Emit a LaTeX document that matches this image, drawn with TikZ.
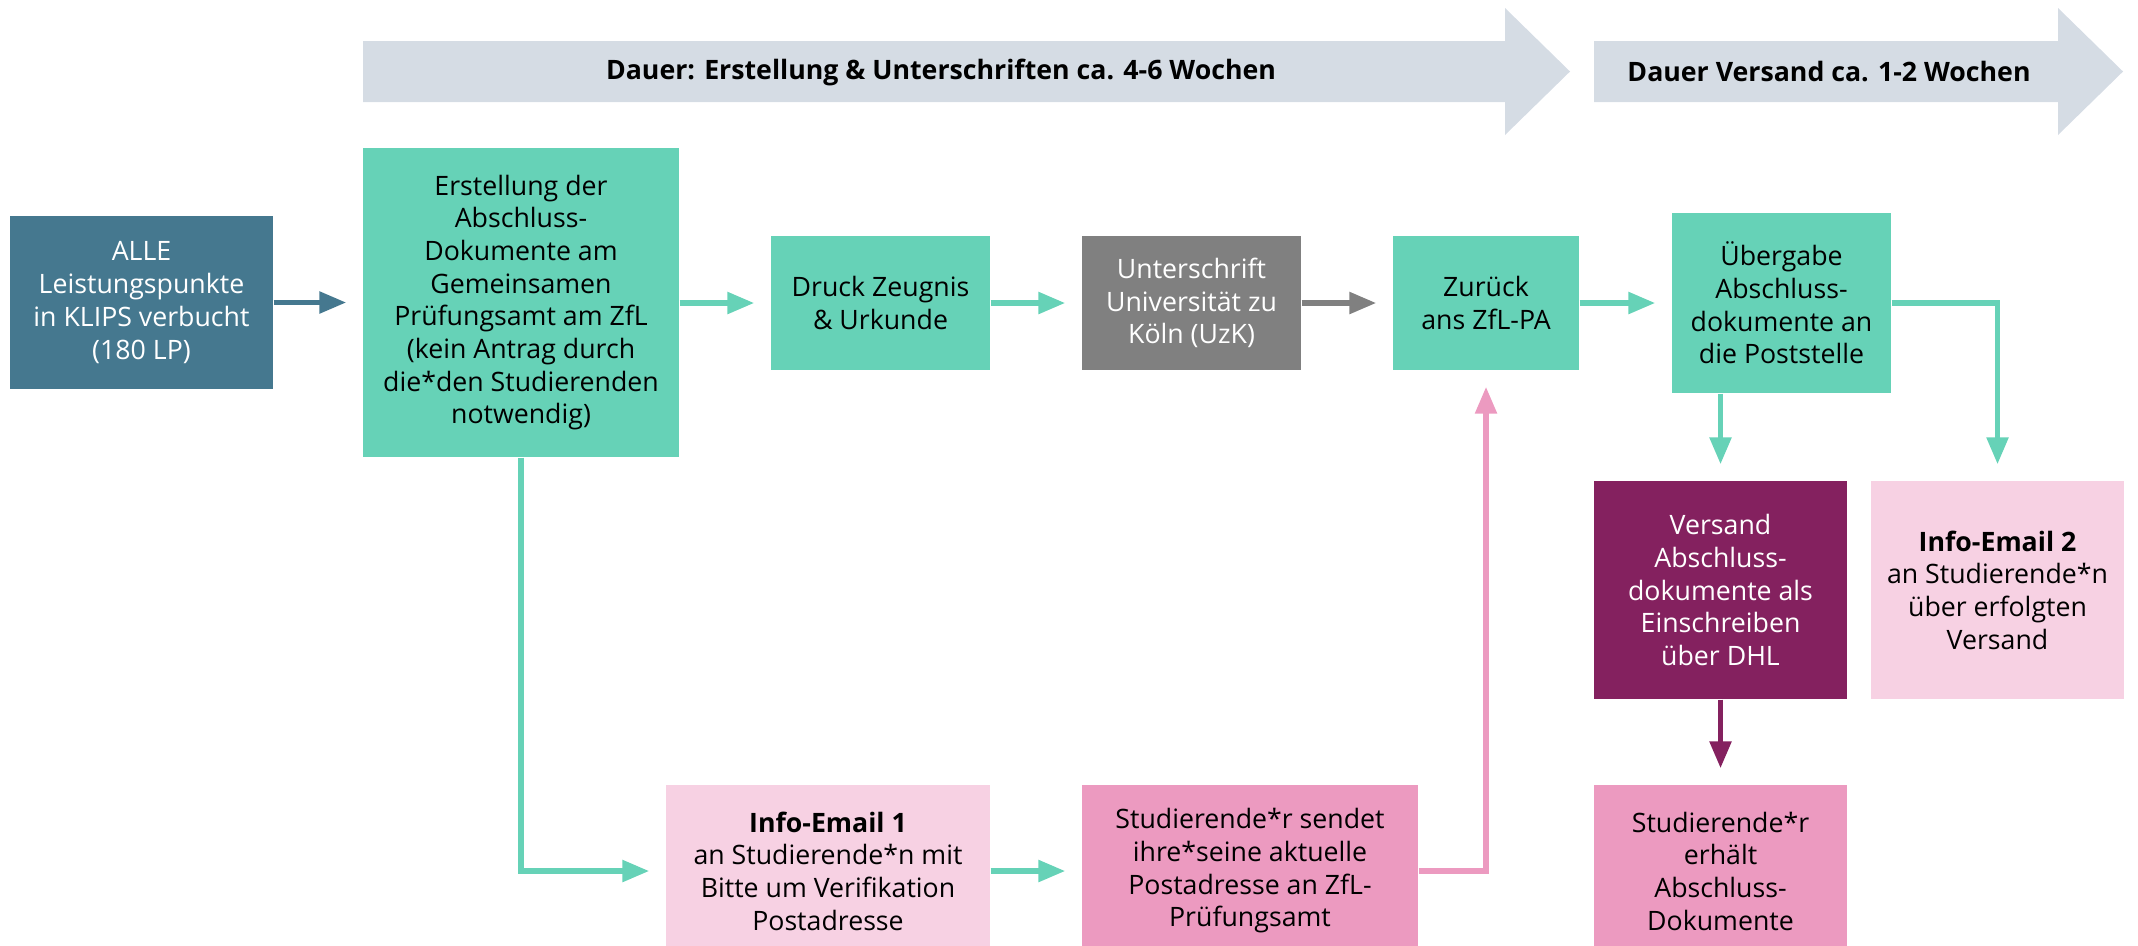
\documentclass[tikz,border=0pt]{standalone}
\usepackage{fontspec}
\setmainfont{Open Sans}
\usetikzlibrary{arrows.meta,positioning}
\definecolor{zflgreen}{HTML}{66D2B7}
\definecolor{zflblue}{HTML}{45788F}
\definecolor{zflgray}{HTML}{808080}
\definecolor{zflpurple}{HTML}{84215F}
\definecolor{zflpink}{HTML}{EC9AC0}
\definecolor{zfllight}{HTML}{F7D1E3}
\definecolor{zflbar}{HTML}{D5DCE4}

\begin{document}
\begin{tikzpicture}[x=0.1mm, y=-0.1mm,
    box/.style={rectangle, inner sep=0pt, align=center, font=\fontsize{7.6}{9.3}\selectfont},
    flow/.style={line width=0.55mm, -{Triangle[length=2.7mm,width=2.1mm]}, shorten >=1.6mm},
    bar/.style={font=\fontsize{7.6}{9.3}\selectfont\bfseries}]
    \useasboundingbox (0,0) rectangle (2138,945);
    \clip (0,0) rectangle (2138,945);
    % Duration arrows
    \fill [zflbar] (363,41) -- (1505,41) -- (1505,8) -- (1570,71.5) -- (1505,135) -- (1505,102) -- (363,102) -- cycle;
    \fill [zflbar] (1594,41) -- (2058,41) -- (2058,8) -- (2123,71.5) -- (2058,135) -- (2058,102) -- (1594,102) -- cycle;
    \node [bar] (dauer1) at (941,72) {Dauer: Erstellung \& Unterschriften ca. 4-6 Wochen};
    \node [bar] (dauer2) at (1829,72) {Dauer Versand ca. 1-2 Wochen};
    % Upper row
    \node [box, fill=zflblue, text=white, minimum width=26.3mm, minimum height=17.3mm] (alle) at (141.5,302.5)
        {ALLE\\Leistungspunkte\\in KLIPS verbucht\\(180 LP)};
    \node [box, fill=zflgreen, minimum width=31.6mm, minimum height=30.9mm] (erst) at (521,302.5)
        {Erstellung der\\Abschluss-\\Dokumente am\\Gemeinsamen\\Prüfungsamt am ZfL\\(kein Antrag durch\\die*den Studierenden\\notwendig)};
    \node [box, fill=zflgreen, minimum width=21.9mm, minimum height=13.4mm] (druck) at (880.5,303)
        {Druck Zeugnis\\\& Urkunde};
    \node [box, fill=zflgray, text=white, minimum width=21.9mm, minimum height=13.4mm] (unter) at (1191.5,303)
        {Unterschrift\\Universität zu\\Köln (UzK)};
    \node [box, fill=zflgreen, minimum width=18.6mm, minimum height=13.4mm] (zurueck) at (1486,303)
        {Zurück\\ans ZfL-PA};
    \node [box, fill=zflgreen, minimum width=21.9mm, minimum height=18mm] (ueber) at (1781.5,303)
        {Übergabe\\Abschluss-\\dokumente an\\die Poststelle};
    % Middle row
    \node [box, fill=zflpurple, text=white, minimum width=25.3mm, minimum height=21.8mm] (versand) at (1720.5,590)
        {Versand\\Abschluss-\\dokumente als\\Einschreiben\\über DHL};
    \node [box, fill=zfllight, minimum width=25.3mm, minimum height=21.8mm] (info2) at (1997.5,590)
        {\textbf{Info-Email 2}\\an Studierende*n\\über erfolgten\\Versand};
    % Lower row
    \node [box, fill=zfllight, minimum width=32.4mm, minimum height=17.2mm] (info1) at (828,871)
        {\textbf{Info-Email 1}\\an Studierende*n mit\\Bitte um Verifikation\\Postadresse};
    \node [box, fill=zflpink, minimum width=33.6mm, minimum height=17.2mm] (sendet) at (1250,871)
        {Studierende*r sendet\\ihre*seine aktuelle\\Postadresse an ZfL-\\Prüfungsamt};
    \node [box, fill=zflpink, minimum width=25.3mm, minimum height=17.2mm] (erhaelt) at (1720.5,871)
        {Studierende*r\\erhält\\Abschluss-\\Dokumente};
    % Connectors
    \draw [flow, zflblue] (alle.east) -- (erst.west);
    \draw [flow, zflgreen] (erst.east |- druck.west) -- (druck.west);
    \draw [flow, zflgreen] (druck.east) -- (unter.west);
    \draw [flow, zflgray] (unter.east) -- (zurueck.west);
    \draw [flow, zflgreen] (zurueck.east) -- (ueber.west |- zurueck.east);
    \draw [flow, zflgreen] (versand.north |- ueber.south) -- (versand.north);
    \draw [flow, zflgreen] (ueber.east) -| (info2.north);
    \draw [flow, zflgreen] (erst.south) |- (info1.west);
    \draw [flow, zflgreen] (info1.east) -- (sendet.west);
    \draw [flow, zflpink] (sendet.east) -| (zurueck.south);
    \draw [flow, zflpurple] (versand.south) -- (erhaelt.north);
\end{tikzpicture}
\end{document}
